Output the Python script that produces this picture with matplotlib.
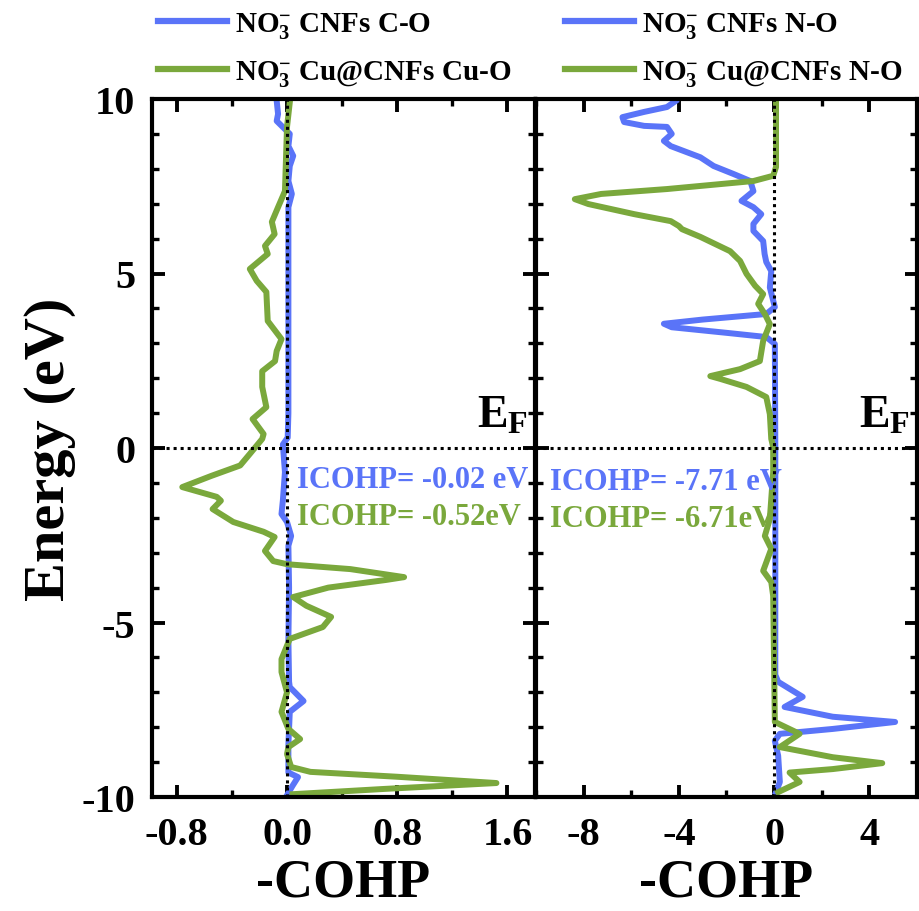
import matplotlib
matplotlib.use("Agg")
import matplotlib.pyplot as plt
from matplotlib.ticker import MultipleLocator

plt.rcParams['font.family'] = ['Liberation Serif', 'DejaVu Serif']
plt.rcParams['font.weight'] = 'bold'
plt.rcParams['mathtext.default'] = 'regular'
plt.rcParams['axes.unicode_minus'] = False

BLUE = '#5A74F8'
GREEN = '#7AA83C'

# ---- Left panel: NO3- CNFs C-O (blue) and NO3- Cu@CNFs Cu-O (green) ----
left_blue_E = [9.95, 9.57, 9.37, 9.0, 8.65, 8.37, 8.08, 7.65, 7.28, 6.9, 5.0, 3.0, 1.0, 0.3, 0.1,
               -0.69, -1.5, -1.89, -2.12, -2.52, -2.8, -4.0, -5.5, -6.7, -6.85, -7.05, -7.25,
               -7.56, -8.5, -9.3, -9.43, -9.68, -9.95]
left_blue_v = [-0.075, -0.065, -0.075, 0.02, 0.01, 0.045, 0.02, 0.01, 0.035, 0.01, 0.01, 0.01, 0.01,
               0.005, -0.03, -0.015, -0.03, -0.04, 0.0, 0.03, 0.01, 0.015, 0.01, 0.015, 0.02, 0.07,
               0.12, 0.02, 0.01, 0.01, 0.08, 0.04, 0.0]

left_green_E = [9.9, 9.2, 7.36, 6.9, 6.48, 6.13, 5.79, 5.56, 5.13, 4.79, 4.47, 3.64, 3.12, 2.78,
                2.49, 2.2, 1.75, 1.17, 0.83, 0.4, 0.26, -0.17, -0.5, -0.8, -1.12, -1.4, -1.51, -1.75,
                -2.12, -2.4, -2.55, -2.95, -3.24, -3.33, -3.47, -3.7, -3.78, -4.0, -4.27, -4.52,
                -4.84, -5.13, -5.47, -6.05, -6.42, -7.0, -7.56, -8.05, -8.34, -8.57, -8.77, -9.14,
                -9.28, -9.42, -9.6, -9.77, -9.92]
left_green_v = [0.02, 0.0, -0.015, -0.065, -0.11, -0.09, -0.16, -0.14, -0.27, -0.22, -0.15, -0.14,
                -0.04, -0.075, -0.087, -0.18, -0.18, -0.15, -0.25, -0.17, -0.18, -0.27, -0.34,
                -0.55, -0.76, -0.51, -0.48, -0.54, -0.39, -0.17, -0.09, -0.16, -0.10, 0.0, 0.46,
                0.85, 0.72, 0.3, 0.045, 0.14, 0.32, 0.26, 0.02, -0.04, -0.04, 0.0, -0.04, 0.01,
                0.095, 0.01, 0.0, 0.03, 0.17, 0.80, 1.52, 0.70, 0.04]

# ---- Right panel: NO3- CNFs N-O (blue) and NO3- Cu@CNFs N-O (green) ----
right_blue_E = [9.94, 9.77, 9.63, 9.48, 9.34, 9.23, 9.2, 9.0, 8.8, 8.65, 8.33, 8.08, 7.85, 7.65,
                7.36, 7.08, 6.9, 6.7, 6.42, 6.22, 5.93, 5.56, 5.33, 5.07, 4.6, 4.04, 3.84, 3.68,
                3.56, 3.46, 3.3, 3.18, 2.98, 0.0, -3.0, -6.5, -6.7, -7.13, -7.42, -7.7, -7.85,
                -8.05, -8.19, -8.39, -8.82, -9.57, -9.86]
right_blue_v = [-4.14, -4.5, -5.46, -6.37, -6.3, -5.46, -4.5, -4.3, -4.63, -4.34, -3.1, -2.54, -1.7,
                -1.0, -0.87, -1.37, -0.87, -0.54, -0.87, -0.87, -0.46, -0.4, -0.33, -0.12, -0.18,
                0.03, -0.33, -3.0, -4.63, -4.3, -2.0, -0.33, 0.03, 0.05, 0.05, 0.05, 0.17, 1.2,
                0.44, 2.46, 5.08, 2.46, 0.24, 0.03, 0.17, 0.24, 0.08]

right_green_E = [9.94, 8.05, 7.8, 7.65, 7.42, 7.28, 7.13, 6.99, 6.7, 6.5, 6.36, 6.27, 6.05, 5.64,
                 5.36, 4.99, 4.65, 4.41, 4.13, 3.84, 3.55, 3.07, 2.49, 2.26, 2.06, 1.98, 1.75,
                 1.46, 0.97, 0.26, 0.03, -0.69, -2.03, -2.52, -2.89, -3.52, -3.84, -4.24, -7.85,
                 -8.19, -8.57, -8.86, -9.03, -9.2, -9.3, -9.57, -9.86]
right_green_v = [0.08, 0.08, -0.04, -0.87, -4.5, -7.26, -8.37, -7.8, -5.87, -4.34, -4.0, -3.87,
                 -3.1, -1.85, -1.43, -1.16, -0.8, -0.46, -0.67, -0.39, -0.18, -0.46, -0.6, -1.43,
                 -2.68, -2.26, -1.16, -0.33, -0.18, -0.12, -0.04, -0.04, -0.18, -0.39, -0.12,
                 -0.46, -0.12, -0.04, 0.03, 1.07, 0.24, 2.46, 4.54, 2.46, 0.65, 1.07, 0.17]

left_labels = [r'NO$_{3}^{-}$ CNFs C-O', r'NO$_{3}^{-}$ Cu@CNFs Cu-O']
right_labels = [r'NO$_{3}^{-}$ CNFs N-O', r'NO$_{3}^{-}$ Cu@CNFs N-O']
left_icohp = ['ICOHP= -0.02 eV', 'ICOHP= -0.52eV']
right_icohp = ['ICOHP= -7.71 eV', 'ICOHP= -6.71eV']

W, H = 920, 912
fig = plt.figure(figsize=(W / 100, H / 100), dpi=100)
axL = fig.add_axes([152 / W, 1 - 798 / H, 383 / W, 698 / H])
axR = fig.add_axes([536 / W, 1 - 798 / H, 381 / W, 698 / H])

LW = 4.3
for ax in (axL, axR):
    ax.set_ylim(-10, 10)
    ax.yaxis.set_major_locator(MultipleLocator(5))
    ax.yaxis.set_minor_locator(MultipleLocator(1))
    for s in ax.spines.values():
        s.set_linewidth(3)
    ax.tick_params(which='both', direction='in', top=True, right=True, left=True, bottom=True)
    ax.tick_params(which='major', length=9, width=2.8, labelsize=29, pad=14)
    ax.tick_params(which='minor', length=5, width=2.4)
    ax.set_xlabel('-COHP', fontsize=39, fontweight='bold', labelpad=3)

l1, = axL.plot(left_blue_v, left_blue_E, color=BLUE, lw=LW, solid_joinstyle='round')
l2, = axL.plot(left_green_v, left_green_E, color=GREEN, lw=LW, solid_joinstyle='round')
r1, = axR.plot(right_blue_v, right_blue_E, color=BLUE, lw=LW, solid_joinstyle='round')
r2, = axR.plot(right_green_v, right_green_E, color=GREEN, lw=LW, solid_joinstyle='round')

axL.set_xlim(-0.98, 1.8)
axL.xaxis.set_major_locator(MultipleLocator(0.8))
axL.xaxis.set_minor_locator(MultipleLocator(0.4))
axL.xaxis.set_major_formatter(plt.FuncFormatter(lambda v, p: f'{v:.1f}'))
axR.set_xlim(-10, 6)
axR.xaxis.set_major_locator(MultipleLocator(4))
axR.xaxis.set_minor_locator(MultipleLocator(2))
axR.xaxis.set_major_formatter(plt.FuncFormatter(lambda v, p: f'{v:.0f}'))
axR.tick_params(labelleft=False)
axL.tick_params(axis='y', pad=12)

axL.set_ylabel('Energy (eV)', fontsize=42, fontweight='bold', labelpad=4)

for ax in (axL, axR):
    ax.axvline(0, color='black', lw=2.2, ls=(0, (1, 1.3)), zorder=5)
    ax.axhline(0, color='black', lw=2.2, ls=(0, (1, 1.3)), zorder=5)
    ax.text(1 - 7 / 383, 0.6, r'E$_{F}$', transform=ax.get_yaxis_transform(),
            ha='right', va='baseline', fontsize=33, fontweight='bold')

axL.text((297 - 152) / 383, -1.12, left_icohp[0], transform=axL.get_yaxis_transform(),
         color=BLUE, fontsize=22, fontweight='bold', va='baseline')
axL.text((297 - 152) / 383, -2.18, left_icohp[1], transform=axL.get_yaxis_transform(),
         color=GREEN, fontsize=22, fontweight='bold', va='baseline')
axR.text((550 - 536) / 381, -1.17, right_icohp[0], transform=axR.get_yaxis_transform(),
         color=BLUE, fontsize=22, fontweight='bold', va='baseline')
axR.text((550 - 536) / 381, -2.23, right_icohp[1], transform=axR.get_yaxis_transform(),
         color=GREEN, fontsize=22, fontweight='bold', va='baseline')

leg_kw = dict(frameon=False, fontsize=21, handlelength=2.35, handletextpad=0.28,
              borderpad=0, borderaxespad=0, labelspacing=0.62, loc='upper left',
              bbox_transform=fig.transFigure)
legL = axL.legend([l1, l2], left_labels, bbox_to_anchor=(158 / W, 1 - 11 / H), **leg_kw)
legR = axR.legend([r1, r2], right_labels, bbox_to_anchor=(565 / W, 1 - 11 / H), **leg_kw)
for leg in (legL, legR):
    for t in leg.get_texts():
        t.set_fontweight('bold')
    for ln in leg.get_lines():
        ln.set_linewidth(4.5)

fig.savefig('out.png', dpi=100)
